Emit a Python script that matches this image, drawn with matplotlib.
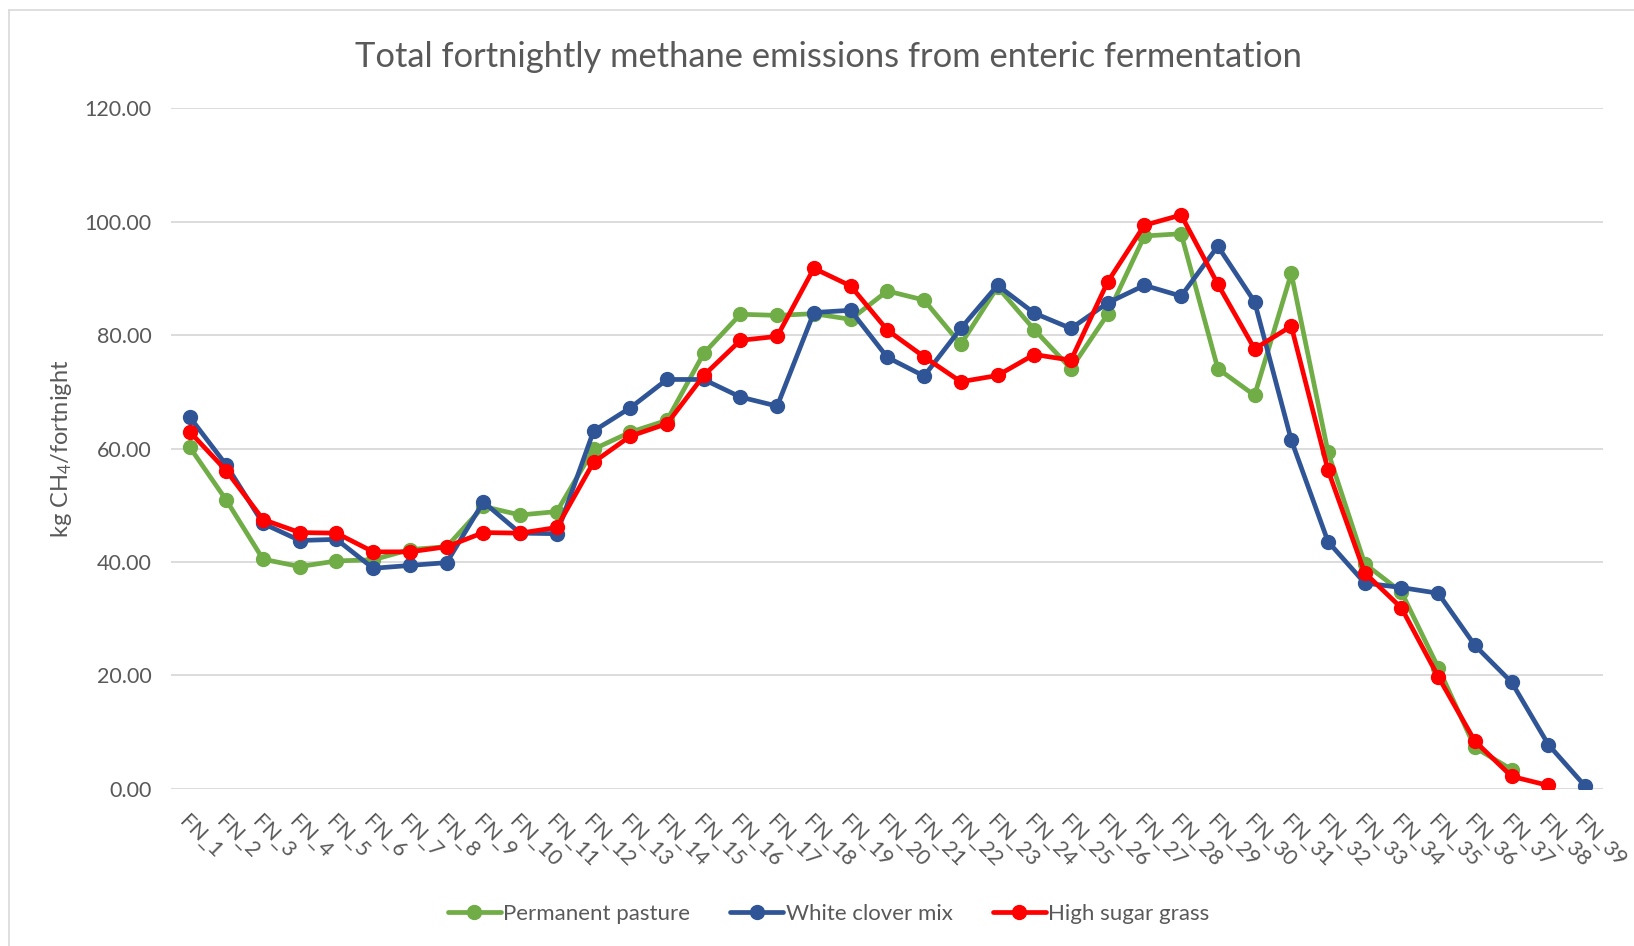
import numpy as np
import matplotlib
matplotlib.use("Agg")
import matplotlib.pyplot as plt
from matplotlib.lines import Line2D

nan = np.nan

# fortnights FN_1 .. FN_39
labels = ["FN_%d" % i for i in range(1, 40)]

permanent_pasture = [60.3, 50.9, 40.5, 39.2, 40.2, 40.4, 42.2, 42.7, 49.8, 48.3,
                     48.9, 59.9, 62.9, 65.0, 76.8, 83.7, 83.5, 83.8, 82.8, 87.8,
                     86.2, 78.4, 88.5, 81.0, 74.1, 83.7, 97.5, 97.9, 74.1, 69.4,
                     90.9, 59.4, 39.7, 34.7, 21.4, 7.3, 3.4, nan, nan]
white_clover = [65.6, 57.1, 46.8, 43.8, 44.0, 38.9, 39.4, 39.9, 50.6, 45.1,
                45.0, 63.1, 67.2, 72.2, 72.2, 69.1, 67.5, 84.0, 84.4, 76.1,
                72.8, 81.2, 88.8, 83.9, 81.2, 85.7, 88.8, 86.9, 95.7, 85.9,
                61.5, 43.6, 36.3, 35.5, 34.5, 25.3, 18.8, 7.8, 0.5]
high_sugar = [63.0, 56.1, 47.5, 45.2, 45.1, 41.8, 41.8, 42.7, 45.2, 45.1,
              46.1, 57.6, 62.2, 64.4, 72.9, 79.1, 79.8, 91.8, 88.7, 80.9,
              76.2, 71.8, 72.9, 76.6, 75.6, 89.4, 99.4, 101.2, 89.0, 77.6,
              81.6, 56.2, 38.1, 31.9, 19.8, 8.4, 2.2, 0.6, nan]

series = [("Permanent pasture", permanent_pasture, "#70AD47"),
          ("White clover mix", white_clover, "#2F5597"),
          ("High sugar grass", high_sugar, "#FF0000")]

TEXT = "#595959"
GRID = "#D9D9D9"
plt.rcParams["font.family"] = ["Lato", "DejaVu Sans"]
plt.rcParams["mathtext.default"] = "regular"

fig = plt.figure(figsize=(16.34, 9.46), dpi=100)
ax = fig.add_axes([0.1048, 0.1661, 0.8765, 0.7193])

x = np.arange(len(labels))
for name, vals, col in series:
    ax.plot(x, vals, color=col, lw=3.4, marker="o", ms=10, label=name,
            solid_capstyle="round", zorder=3)

ax.set_xlim(-0.5, len(labels) - 0.5)
ax.set_ylim(0, 120)
ax.set_yticks(np.arange(0, 121, 20))
ax.set_yticklabels(["%.2f" % v for v in np.arange(0, 121, 20)])
ax.set_xticks(x)
ax.set_xticklabels(labels, rotation=-45, ha="left", va="top",
                   rotation_mode="anchor")
ax.tick_params(axis="both", length=0, colors=TEXT, labelsize=15.5)
ax.tick_params(axis="y", pad=14)
ax.tick_params(axis="x", pad=16)
for s in ax.spines.values():
    s.set_visible(False)
ax.grid(axis="y", color=GRID, lw=1.3)
ax.set_axisbelow(True)

ax.set_ylabel("kg CH$_4$/fortnight", color=TEXT, fontsize=17, labelpad=8)
fig.suptitle("Total fortnightly methane emissions from enteric fermentation",
             x=0.507, y=0.957, color=TEXT, fontsize=24.8)

fig.legend(loc="center", bbox_to_anchor=(0.507, 0.034), ncol=3, frameon=False,
           fontsize=16, labelcolor=TEXT, handlelength=2.4, handletextpad=0.1,
           columnspacing=1.8)

# chart area border (only left and top edges are inside the picture)
fig.add_artist(Line2D([9 / 1634, 9 / 1634], [0, 1 - 10 / 946],
                      transform=fig.transFigure, color=GRID, lw=1.2))
fig.add_artist(Line2D([9 / 1634, 1], [1 - 10 / 946, 1 - 10 / 946],
                      transform=fig.transFigure, color=GRID, lw=1.2))

fig.savefig("out.png", dpi=100)
